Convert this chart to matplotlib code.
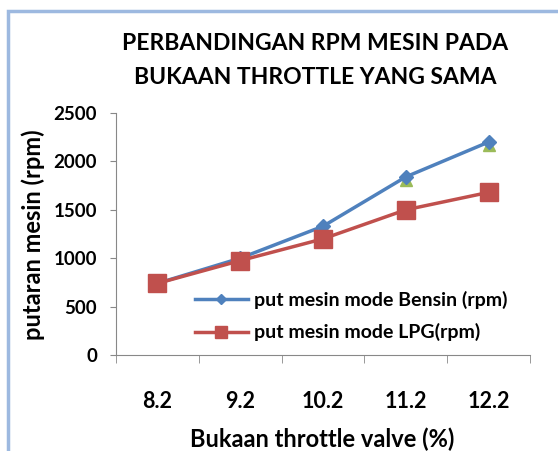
import matplotlib
matplotlib.use("Agg")
import matplotlib.pyplot as plt
from matplotlib.patches import Rectangle
from matplotlib.lines import Line2D
import numpy as np

categories = ["8.2", "9.2", "10.2", "11.2", "12.2"]
bensin = [740, 1000, 1330, 1840, 2200]
lpg = [740, 975, 1200, 1500, 1680]
ketiga = [740, 990, 1320, 1810, 2165]
yticks = [0, 500, 1000, 1500, 2000, 2500]

plt.rcParams['font.family'] = ['Lato', 'DejaVu Sans']

W, H = 558, 451
fig = plt.figure(figsize=(W/100, H/100), dpi=100)
fig.patch.set_facecolor('white')
fig.add_artist(Rectangle((8/W, -0.01), 1, 1.01 - 11/H, transform=fig.transFigure,
                         fill=False, edgecolor='#9DB9E0', linewidth=2.5))

L, R, T, B = 116, 530, 113, 355
ax = fig.add_axes([L/W, 1 - B/H, (R-L)/W, (B-T)/H])
x = np.arange(len(categories))
ax.plot(x, ketiga, color='#9BBB59', marker='^', markersize=9, linestyle='none', zorder=2)
ax.plot(x, bensin, color='#4F81BD', marker='D', markersize=7, linewidth=2.5, zorder=3)
ax.plot(x, lpg, color='#C0504D', marker='s', markersize=13, linewidth=2.5, zorder=4)

ax.set_xlim(-0.5, len(categories) - 0.5)
ax.set_ylim(0, 2500)
ax.set_yticks(yticks)
ax.set_yticklabels([str(v) for v in yticks], fontsize=13.5, fontweight='bold')
ax.set_xticks(x)
ax.set_xticklabels(categories, fontsize=15.5, fontweight='bold')
ax.set_xticks(np.arange(-0.5, len(categories), 1), minor=True)
ax.tick_params(axis='x', which='major', length=0, pad=26)
ax.tick_params(axis='x', which='minor', length=6, color='#888888')
ax.tick_params(axis='y', length=4.5, color='#888888', pad=9)
for s in ['top', 'right']:
    ax.spines[s].set_visible(False)
for s in ['left', 'bottom']:
    ax.spines[s].set_color('#888888')

fig.text(322/W, 1 - 439/H, 'Bukaan throttle valve (%)', ha='center', va='center',
         fontsize=17, fontweight='bold')
fig.text(33/W, 1 - 235/H, 'putaran mesin (rpm)', ha='center', va='center',
         rotation=90, fontsize=17, fontweight='bold')

fig.text(315/W, 1 - 44/H, 'PERBANDINGAN RPM MESIN PADA', ha='center', va='center',
         fontsize=16.5, fontweight='bold')
fig.text(315/W, 1 - 78/H, 'BUKAAN THROTTLE YANG SAMA', ha='center', va='center',
         fontsize=16.5, fontweight='bold')

handles = [Line2D([], [], color='#4F81BD', marker='D', markersize=5, linewidth=2.5),
           Line2D([], [], color='#C0504D', marker='s', markersize=9, linewidth=2.5)]
labels = ['put mesin mode Bensin (rpm)', 'put mesin mode LPG(rpm)']
leg = ax.legend(handles, labels, loc='center left',
                bbox_to_anchor=((195-L)/(R-L), (B-316)/(B-T)),
                frameon=False, handlelength=2.7, handletextpad=0.35, labelspacing=0.75,
                borderaxespad=0, borderpad=0, prop={'weight': 'bold', 'size': 14})

fig.savefig('out.png', dpi=100, facecolor='white')
